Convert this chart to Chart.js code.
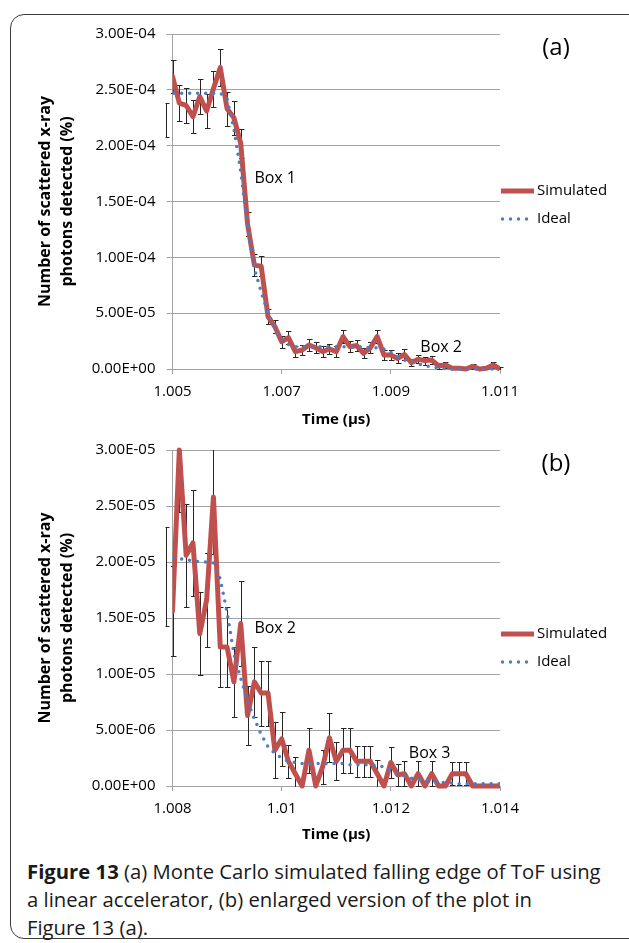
<!DOCTYPE html>
<html>
<head>
<meta charset="utf-8">
<script src="https://cdn.jsdelivr.net/npm/chart.js@4.4.0/dist/chart.umd.min.js"></script>
<style>
  body { margin: 0; background: #fff; width: 629px; height: 943px; overflow: hidden; position: relative; font-family: "Open Sans", sans-serif; }
  .frame { position: absolute; left: 10px; top: 14px; width: 660px; height: 925px; border: 1.5px solid #3c3c3c; border-radius: 14px; box-sizing: border-box; }
  canvas { position: absolute; left: 0; }
  #chartA { top: 0; }
  #chartB { top: 430px; }
  .caption { position: absolute; left: 27px; top: 857px; font-size: 20.3px; line-height: 28px; color: #1a1a1a; white-space: nowrap; }
  .caption b { font-weight: 700; }
</style>
</head>
<body>
<div class="frame"></div>
<canvas id="chartA" width="629" height="430"></canvas>
<canvas id="chartB" width="629" height="415"></canvas>
<div class="caption"><b>Figure 13</b> (a) Monte Carlo simulated falling edge of ToF using<br>a linear accelerator, (b) enlarged version of the plot in<br>Figure 13 (a).</div>
<script>
// time bins are 0.125 ns wide; the first bin sits just before the axis start
const binWidth = 0.000125;
const startA = 1.005 - binWidth;
const startB = 1.008 - binWidth;

// panel (a), values in units of 1e-4 %
const unitA = 1e-4;
const simA = [2.23, 2.62, 2.38, 2.36, 2.26, 2.44, 2.31, 2.51, 2.70, 2.33, 2.25, 2.02, 1.30, 0.93, 0.92, 0.47, 0.38,
  0.245, 0.28, 0.155, 0.17, 0.215, 0.19, 0.155, 0.18, 0.155, 0.29, 0.20, 0.21, 0.14, 0.19, 0.29, 0.125, 0.125,
  0.095, 0.13, 0.057, 0.087, 0.075, 0.08, 0.027, 0.036, 0.006, 0.006, 0, 0.024, 0, 0.006, 0.036, 0];
const errA = [0.15, 0.15, 0.16, 0.16, 0.15, 0.16, 0.155, 0.16, 0.165, 0.15, 0.15, 0.13, 0.11, 0.10, 0.09, 0.07, 0.06,
  0.055, 0.06, 0.05, 0.045, 0.05, 0.05, 0.05, 0.045, 0.05, 0.055, 0.05, 0.05, 0.045, 0.05, 0.055, 0.045, 0.045,
  0.045, 0.045, 0.03, 0.035, 0.035, 0.035, 0.025, 0.025, 0.01, 0.01, 0, 0.02, 0, 0.01, 0.025, 0.015];
const idealA = [2.47, 2.47, 2.47, 2.47, 2.47, 2.47, 2.47, 2.47, 2.47, 2.42, 2.15, 1.77, 1.28, 0.90, 0.69, 0.50, 0.37,
  0.27, 0.22, 0.20, 0.20, 0.20, 0.20, 0.20, 0.20, 0.20, 0.20, 0.20, 0.20, 0.20, 0.19, 0.19, 0.18, 0.15,
  0.11, 0.08, 0.06, 0.045, 0.03, 0.02, 0.01, 0.005, 0, 0, 0, 0, 0, 0, 0, 0];
const xTicksA = [1.005, 1.007, 1.009, 1.011];
const yTicksA = [0, 0.5, 1.0, 1.5, 2.0, 2.5, 3.0];
const notesA = [{ text: 'Box 1', x: 1.0065, y: 1.71 }, { text: 'Box 2', x: 1.00954, y: 0.197 }];

// panel (b), values in units of 1e-5 %
const unitB = 1e-5;
const simB = [1.87, 1.56, 3.00, 2.06, 2.17, 1.36, 1.66, 2.58, 1.24, 1.24, 0.93, 1.45, 0.63, 0.93, 0.83, 0.83, 0.32,
  0.42, 0.22, 0.11, 0, 0.32, 0, 0.17, 0.43, 0.22, 0.32, 0.32, 0.22, 0.22, 0.22, 0.11, 0, 0.21,
  0.10, 0.11, 0, 0.11, 0, 0.11, 0, 0, 0.11, 0.11, 0.11, 0, 0, 0, 0, 0];
const errB = [0.44, 0.40, 0.55, 0.46, 0.47, 0.37, 0.42, 0.51, 0.36, 0.36, 0.31, 0.38, 0.26, 0.31, 0.29, 0.29, 0.25,
  0.24, 0.15, 0.15, 0, 0.2, 0, 0.15, 0.22, 0.17, 0.2, 0.2, 0.14, 0.14, 0.14, 0.12, 0, 0.14,
  0.1, 0.11, 0, 0.11, 0, 0.11, 0, 0, 0.1, 0.1, 0.1, 0, 0, 0, 0, 0];
const idealB = [2.03, 2.03, 2.03, 2.02, 2.01, 2.00, 2.00, 1.99, 1.85, 1.55, 1.18, 0.96, 0.76, 0.60, 0.46, 0.35, 0.29,
  0.25, 0.22, 0.21, 0.20, 0.20, 0.20, 0.20, 0.20, 0.20, 0.20, 0.19, 0.19, 0.19, 0.19, 0.18, 0.17, 0.14,
  0.11, 0.09, 0.07, 0.06, 0.05, 0.04, 0.035, 0.03, 0.025, 0.02, 0.02, 0.02, 0.02, 0.02, 0.02, 0.02];
const xTicksB = [1.008, 1.010, 1.012, 1.014];
const yTicksB = [0, 0.5, 1.0, 1.5, 2.0, 2.5, 3.0];
const notesB = [{ text: 'Box 2', x: 1.0095, y: 1.41 }, { text: 'Box 3', x: 1.01233, y: 0.295 }];

const RED = '#c0504d';
const BLUE = '#4a7ebf';
const GRID = '#a3a3a3';

Chart.defaults.font.family = "'Open Sans', sans-serif";
Chart.defaults.font.size = 15;
Chart.defaults.color = '#000';

// Excel style numbers: 2.50E-04
function sci(v) {
  const [m, e] = v.toExponential(2).split('e');
  const n = parseInt(e, 10);
  return m + 'E' + (n < 0 ? '-' : '+') + String(Math.abs(n)).padStart(2, '0');
}

// vertical error bars for the simulated series, drawn under the lines
const errorBars = {
  id: 'errorBars',
  beforeDatasetsDraw(chart, args, opts) {
    const { ctx, chartArea, scales: { x, y } } = chart;
    const pts = chart.data.datasets[0].data;
    ctx.save();
    ctx.beginPath();
    ctx.rect(chartArea.left - 7, chartArea.top, chartArea.width + 14, chartArea.height + 1);
    ctx.clip();
    ctx.strokeStyle = '#262626';
    ctx.lineWidth = 1;
    pts.forEach((p, i) => {
      const e = opts.errors[i] * opts.unit;
      if (!e) return;
      const px = Math.round(x.getPixelForValue(p.x)) + 0.5;
      const top = Math.round(y.getPixelForValue(p.y + e)) + 0.5;
      const bot = Math.round(y.getPixelForValue(p.y - e)) + 0.5;
      ctx.beginPath();
      ctx.moveTo(px, top); ctx.lineTo(px, bot);
      ctx.moveTo(px - 2.5, top); ctx.lineTo(px + 3, top);
      ctx.moveTo(px - 2.5, bot); ctx.lineTo(px + 3, bot);
      ctx.stroke();
    });
    ctx.restore();
  }
};

// box notes, panel letter and the legend at the right of the plot
const notes = {
  id: 'notes',
  afterDraw(chart, args, opts) {
    const { ctx, chartArea, scales: { x, y } } = chart;
    ctx.save();
    ctx.fillStyle = '#000';
    ctx.textBaseline = 'middle';
    ctx.font = "16px 'Open Sans'";
    opts.boxes.forEach(b => ctx.fillText(b.text, x.getPixelForValue(b.x), y.getPixelForValue(b.y * opts.unit)));

    ctx.font = "24px 'Open Sans'";
    ctx.textAlign = 'center';
    ctx.fillText(opts.letter, chartArea.right + 56, chartArea.top + 14);

    ctx.textAlign = 'left';
    ctx.font = "15px 'Open Sans'";
    chart.data.datasets.forEach((ds, i) => {
      const ly = chartArea.top + opts.legendTop + i * 28;
      const lx = chartArea.right + 1;
      ctx.save();
      ctx.strokeStyle = ds.borderColor;
      ctx.lineWidth = ds.borderWidth;
      ctx.lineCap = ds.borderCapStyle || 'butt';
      ctx.setLineDash(ds.borderDash || []);
      ctx.beginPath();
      ctx.moveTo(lx + (ds.borderDash ? 1.5 : 0), ly);
      ctx.lineTo(lx + 33, ly);
      ctx.stroke();
      ctx.restore();
      ctx.fillText(ds.label, lx + 36, ly);
    });
    ctx.restore();
  }
};

function makeChart(id, o) {
  const toPts = (arr) => arr.map((v, i) => ({ x: o.start + i * binWidth, y: v * o.unit }));
  return new Chart(document.getElementById(id), {
    type: 'line',
    data: {
      datasets: [
        {
          label: 'Simulated',
          data: toPts(o.sim),
          borderColor: RED,
          borderWidth: 5,
          borderJoinStyle: 'round',
          pointRadius: 0,
          tension: 0,
          order: 1,
          clip: { left: 0, right: 0, top: 3, bottom: 4 }
        },
        {
          label: 'Ideal',
          data: toPts(o.ideal),
          borderColor: BLUE,
          borderWidth: 3.5,
          borderDash: [0, 8],
          borderCapStyle: 'round',
          pointRadius: 0,
          tension: 0,
          order: 0,
          clip: { left: 0, right: 0, top: 3, bottom: 4 }
        }
      ]
    },
    options: {
      responsive: false,
      animation: false,
      layout: { padding: { left: 20, right: 129, top: o.padTop, bottom: 0 } },
      plugins: {
        legend: { display: false },
        tooltip: { enabled: false },
        errorBars: { errors: o.err, unit: o.unit },
        notes: { boxes: o.notes, unit: o.unit, letter: o.letter, legendTop: o.legendTop }
      },
      scales: {
        x: {
          type: 'linear',
          min: o.xTicks[0],
          max: o.xTicks[o.xTicks.length - 1],
          afterBuildTicks: (s) => { s.ticks = o.xTicks.map(v => ({ value: v })); },
          afterFit: (s) => { s.height = o.xHeight; },
          grid: { drawOnChartArea: false, drawTicks: true, tickLength: 5, color: GRID },
          border: { color: GRID },
          ticks: { padding: 9, maxRotation: 0, callback: (v) => String(+v.toFixed(3)) },
          title: { display: true, text: 'Time (\u00b5s)', font: { weight: 'bold', size: 15 }, padding: { top: 0, bottom: 1 } }
        },
        y: {
          min: 0,
          max: o.yTicks[o.yTicks.length - 1] * o.unit,
          afterBuildTicks: (s) => { s.ticks = o.yTicks.map(v => ({ value: v * o.unit })); },
          afterFit: (s) => { s.width = 152.5; },
          grid: { color: GRID, tickLength: 6 },
          border: { color: GRID },
          ticks: { padding: 11, callback: (v) => sci(v) },
          title: {
            display: true,
            text: ['Number of scattered x-ray', 'photons detected (%)'],
            font: { weight: 'bold', size: 16, lineHeight: 1.4 },
            padding: { top: 13.8, bottom: 0 }
          }
        }
      }
    },
    plugins: [errorBars, notes]
  });
}

makeChart('chartA', {
  start: startA, unit: unitA, sim: simA, err: errA, ideal: idealA,
  xTicks: xTicksA, yTicks: yTicksA, notes: notesA,
  letter: '(a)', padTop: 34, xHeight: 61, legendTop: 157
});

makeChart('chartB', {
  start: startB, unit: unitB, sim: simB, err: errB, ideal: idealB,
  xTicks: xTicksB, yTicks: yTicksB, notes: notesB,
  letter: '(b)', padTop: 20, xHeight: 59, legendTop: 184
});
</script>
</body>
</html>
